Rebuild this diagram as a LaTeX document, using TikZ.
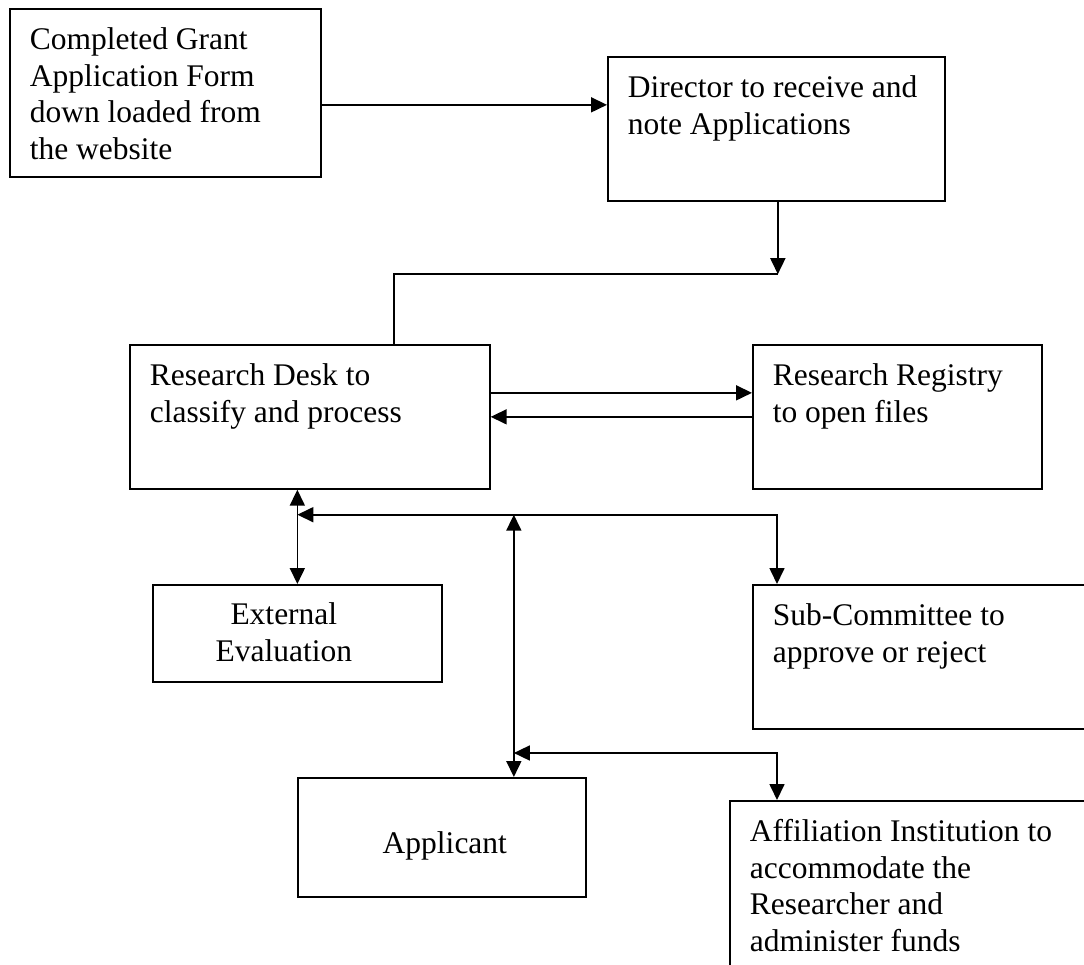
\documentclass[tikz,border=0pt]{standalone}
\usepackage{fontspec}
\setmainfont{Liberation Serif}
\usetikzlibrary{arrows.meta}
\newcommand{\lefttxt}[3]{\parbox[t][#2pt][t]{#1pt}{\raggedright\leftskip=20pt\rule{0pt}{41pt}#3}}
\newcommand{\midtxt}[5]{\parbox[t][#2pt][t]{#1pt}{\centering\leftskip=#4pt plus 1fil\rightskip=-#4pt plus 1fil\rule{0pt}{#3pt}#5}}

\begin{document}
\begin{tikzpicture}[x=1pt,y=1pt,
    box/.style={draw, line width=1.7pt, inner sep=0pt, anchor=north west,
      font=\fontsize{31.5}{36.5}\selectfont},
    wire/.style={line width=1.7pt},
    arr/.style={wire, -{Triangle[length=16pt,width=15pt]}},
    dbl/.style={wire, {Triangle[length=16pt,width=15pt]}-{Triangle[length=16pt,width=15pt]}}]
      \useasboundingbox (0,0) rectangle (1084,-965) ;
      \clip (0,0) rectangle (1084,-965) ;
      \node[box] (form) at (9,-8) {\lefttxt{311}{168}{Completed Grant\\Application Form\\down loaded from\\the website}} ;
      \node[box] (director) at (607,-56) {\lefttxt{337}{144}{Director to receive and\\note Applications}} ;
      \node[box] (desk) at (129,-344) {\lefttxt{360}{144}{Research Desk to\\classify and process}} ;
      \node[box] (registry) at (752,-344) {\lefttxt{289}{144}{Research Registry\\to open files}} ;
      \node[box] (extern) at (152,-584) {\midtxt{289}{97}{40}{-13.5}{External\\Evaluation}} ;
      \node[box] (subcom) at (752,-584) {\lefttxt{360}{144}{Sub-Committee to\\approve or reject}} ;
      \node[box] (applicant) at (297,-777) {\midtxt{288}{119}{76}{3}{Applicant}} ;
      \node[box] (affil) at (729,-800) {\lefttxt{380}{220}{Affiliation Institution to\\accommodate the\\Researcher and\\administer funds}} ;
      \draw[arr] ([yshift=-12pt]form.east) -- ([yshift=24pt]director.west) ;
      \draw[arr] ([xshift=1.5pt]director.south) -- ++(0,-72.5) coordinate (turn) ;
      \draw[wire] (turn) -| ([xshift=84pt]desk.north) ;
      \draw[arr] ([yshift=24pt]desk.east) -- ([yshift=24pt]registry.west) ;
      \draw[arr] (registry.west) -- (desk.east) ;
      \coordinate (busA) at ([yshift=-25pt]desk.south) ;
      \coordinate (busB) at ([yshift=24pt]applicant.north) ;
      \coordinate (drop) at ([xshift=72pt]applicant.north) ;
      \draw[dbl] (extern.north) -- (extern.north |- desk.south) ;
      \draw[dbl] (busA -| extern.north) -| ([xshift=25pt]subcom.north west) ;
      \draw[dbl] (drop) -- (drop |- busA) ;
      \draw[dbl] (busB -| drop) -| ([xshift=48pt]affil.north west) ;
    \end{tikzpicture}
\end{document}
